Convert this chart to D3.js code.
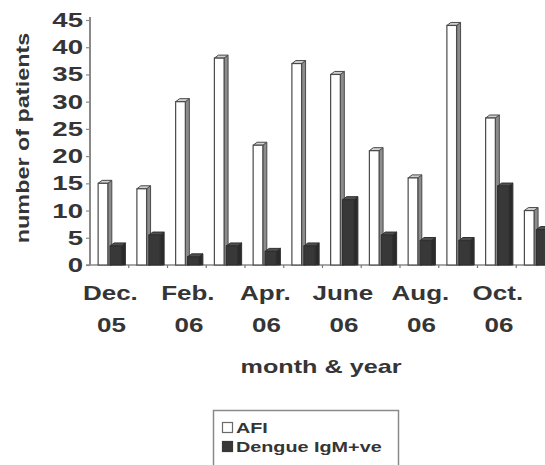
<!DOCTYPE html>
<html>
<head>
<meta charset="utf-8">
<script src="https://cdn.jsdelivr.net/npm/d3@7"></script>
<style>
  html, body { margin: 0; padding: 0; background: #fff; }
  svg { display: block; font-family: "Liberation Sans", Arial, sans-serif; font-weight: bold; }
</style>
</head>
<body>
<svg id="chart" width="545" height="465"></svg>
<script>
// ---- data ----
const months = ["Dec 05","Jan 06","Feb 06","Mar 06","Apr 06","May 06","Jun 06","Jul 06","Aug 06","Sep 06","Oct 06","Nov 06"];
const afi = [15, 14, 30, 38, 22, 37, 35, 21, 16, 44, 27, 10];
const dengue = [3.5, 5.5, 1.5, 3.5, 2.5, 3.5, 12, 5.5, 4.5, 4.5, 14.5, 6.5];
const xTickLabels = [["Dec.","05"],["Feb.","06"],["Apr.","06"],["June","06"],["Aug.","06"],["Oct.","06"]];
const yTicks = [0, 5, 10, 15, 20, 25, 30, 35, 40, 45];
const seriesNames = ["AFI", "Dengue IgM+ve"];

// ---- layout ----
const svg = d3.select("#chart");
const textColor = "#353535";
const SX = 1.32; // horizontal stretch of the lettering

const x = d3.scaleBand().domain(months).range([90, 90 + 12 * 38.75]).padding(0);
const y = d3.scaleLinear().domain([0, 45]).range([265, 20]);

const dx = 4, dy = 3; // 3D depth

function stretchedText(g, px, py, str, size, anchor, sx) {
  return g.append("text")
    .attr("transform", `translate(${px},${py}) scale(${sx || SX},1)`)
    .attr("text-anchor", anchor)
    .attr("font-size", size)
    .attr("fill", textColor)
    .text(str);
}

// ---- axes ----
const yAxis = d3.axisLeft(y).tickValues(yTicks).tickSize(4).tickFormat("");
const gy = svg.append("g").attr("transform", "translate(90,0)").call(yAxis);
gy.select(".domain").attr("stroke", "#8a8a8a").attr("stroke-width", 2).attr("d", `M0,${y(45) - 3}V${y(0)}`);
gy.selectAll(".tick line").attr("stroke", "#8a8a8a").attr("stroke-width", 1.2);

yTicks.forEach(v => {
  stretchedText(svg, 83, y(v) + 7, String(v), 20, "end", 1.38);
});

// x axis baseline
svg.append("line")
  .attr("x1", 86).attr("x2", 545)
  .attr("y1", y(0)).attr("y2", y(0))
  .attr("stroke", "#8a8a8a").attr("stroke-width", 1.5);
months.forEach((m, i) => {
  const bx = x(m) + x.bandwidth();
  svg.append("line").attr("x1", bx).attr("x2", bx)
    .attr("y1", y(0)).attr("y2", y(0) + 3)
    .attr("stroke", "#777").attr("stroke-width", 1.2);
});

// ---- bars (3D style) ----
const gBars = svg.append("g");
function bar3d(g, x0, w, v, front, side, top, stroke) {
  const yt = y(v), yb = y(0);
  // side face
  g.append("path")
    .attr("d", `M${x0 + w},${yb} L${x0 + w},${yt} L${x0 + w + dx},${yt - dy} L${x0 + w + dx},${yb} Z`)
    .attr("fill", side).attr("stroke", stroke).attr("stroke-width", 1);
  // top face
  g.append("path")
    .attr("d", `M${x0},${yt} L${x0 + dx},${yt - dy} L${x0 + w + dx},${yt - dy} L${x0 + w},${yt} Z`)
    .attr("fill", top).attr("stroke", stroke).attr("stroke-width", 1);
  // front face
  g.append("rect")
    .attr("x", x0).attr("y", yt).attr("width", w).attr("height", yb - yt)
    .attr("fill", front).attr("stroke", stroke).attr("stroke-width", 1.2);
}

months.forEach((m, i) => {
  const b = x(m), bw = x.bandwidth();
  bar3d(gBars, b + bw * 0.21, bw * 0.25, afi[i], "#ffffff", "#8c8c8c", "#d0d0d0", "#4a4a4a");
  bar3d(gBars, b + bw * 0.52, bw * 0.29, dengue[i], "#383838", "#2a2a2a", "#505050", "#303030");
});

// ---- x tick labels ----
const gx = svg.append("g");
xTickLabels.forEach((lab, k) => {
  const m = months[k * 2];
  const cx = x(m) + x.bandwidth() / 2 + 1;
  stretchedText(gx, cx, 300, lab[0], 20, "middle", 1.3);
  stretchedText(gx, cx + 1, 332, lab[1], 20, "middle", 1.3);
});

// ---- axis titles ----
stretchedText(svg, 321, 373, "month & year", 18, "middle", 1.4);
svg.append("text")
  .attr("transform", `translate(29,138) rotate(-90) scale(1.3,1)`)
  .attr("text-anchor", "middle")
  .attr("font-size", 18)
  .attr("fill", textColor)
  .text("number of patients");

// ---- legend ----
const lg = svg.append("g");
lg.append("rect").attr("x", 213.5).attr("y", 410.5).attr("width", 185).attr("height", 70)
  .attr("fill", "#fff").attr("stroke", "#8a8a8a").attr("stroke-width", 1.5);
const legendFills = ["#ffffff", "#383838"];
const legendStrokes = ["#6a6a6a", "#383838"];
seriesNames.forEach((s, i) => {
  const yy = 422 + i * 19;
  lg.append("rect").attr("x", 222.5).attr("y", yy + 0.5).attr("width", 10).attr("height", 10)
    .attr("fill", legendFills[i]).attr("stroke", legendStrokes[i]).attr("stroke-width", 1.2);
  stretchedText(lg, 236, yy + 11, s, 15, "start", 1.32);
});
</script>
</body>
</html>
